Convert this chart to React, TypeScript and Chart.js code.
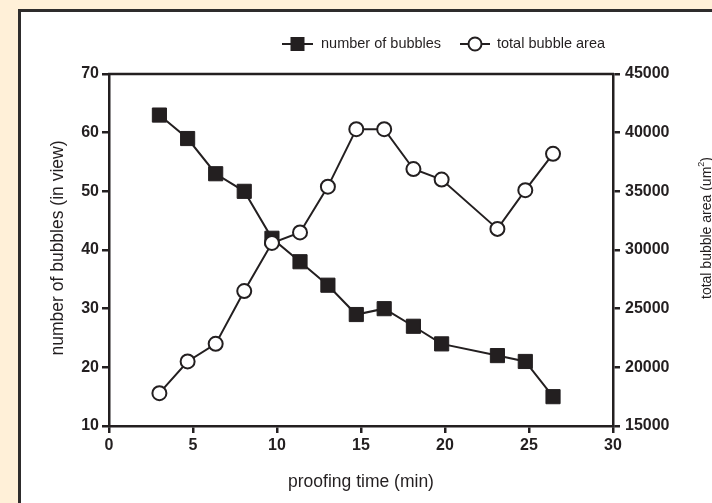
import React, { useEffect, useRef } from 'react';
import { Chart, registerables } from 'chart.js';

Chart.register(...registerables);

const proofingTime = [3, 4.68, 6.35, 8.05, 9.7, 11.37, 13.03, 14.72, 16.38, 18.12, 19.8, 23.12, 24.78, 26.43];
const bubbleCount = [63, 59, 53, 50, 42, 38, 34, 29, 30, 27, 24, 22, 21, 15];
const bubbleArea = [17800, 20500, 22000, 26500, 30600, 31500, 35400, 40300, 40300, 36900, 36000, 31800, 35100, 38200];

const xTitle = 'proofing time (min)';
const yTitle = 'number of bubbles (in view)';
const y1TitleMain = 'total bubble area (um';
const y1TitleSup = '2';
const y1TitleEnd = ')';
const legendCount = 'number of bubbles';
const legendArea = 'total bubble area';

const DARK = '#231f20';
const FONT = '"Liberation Sans", Arial, Helvetica, sans-serif';

const decorPlugin = {
  id: 'decor',
  afterDraw(chart: any) {
    const ctx = chart.ctx as CanvasRenderingContext2D;
    const { left, right, top } = chart.chartArea;
    ctx.save();
    // top frame line
    ctx.strokeStyle = DARK;
    ctx.lineWidth = 2.5;
    ctx.beginPath();
    ctx.moveTo(left - 1, top);
    ctx.lineTo(right + 1, top);
    ctx.stroke();

    ctx.fillStyle = DARK;
    ctx.textBaseline = 'middle';

    // x title
    ctx.font = `17.5px ${FONT}`;
    ctx.textAlign = 'center';
    ctx.fillText(xTitle, (left + right) / 2, 482);

    // left y title
    ctx.save();
    ctx.translate(58, 248);
    ctx.rotate(-Math.PI / 2);
    ctx.fillText(yTitle, 0, 0);
    ctx.restore();

    // right y title with superscript
    ctx.save();
    ctx.translate(707, 228);
    ctx.rotate(-Math.PI / 2);
    ctx.textAlign = 'left';
    ctx.font = `14px ${FONT}`;
    const w1 = ctx.measureText(y1TitleMain).width;
    const w3 = ctx.measureText(y1TitleEnd).width;
    ctx.font = `9px ${FONT}`;
    const w2 = ctx.measureText(y1TitleSup).width;
    const start = -(w1 + w2 + w3) / 2;
    ctx.font = `14px ${FONT}`;
    ctx.fillText(y1TitleMain, start, 0);
    ctx.fillText(y1TitleEnd, start + w1 + w2, 0);
    ctx.font = `9px ${FONT}`;
    ctx.fillText(y1TitleSup, start + w1, -5);
    ctx.restore();

    // legend
    const ly = 44;
    ctx.lineWidth = 2;
    ctx.strokeStyle = DARK;
    ctx.beginPath();
    ctx.moveTo(282, ly);
    ctx.lineTo(313, ly);
    ctx.stroke();
    ctx.fillStyle = DARK;
    ctx.fillRect(297.5 - 7, ly - 7, 14, 14);
    ctx.font = `14.5px ${FONT}`;
    ctx.textAlign = 'left';
    ctx.fillText(legendCount, 321, ly);

    ctx.beginPath();
    ctx.moveTo(460, ly);
    ctx.lineTo(490, ly);
    ctx.stroke();
    ctx.beginPath();
    ctx.arc(475, ly, 6.5, 0, Math.PI * 2);
    ctx.fillStyle = '#ffffff';
    ctx.fill();
    ctx.stroke();
    ctx.fillStyle = DARK;
    ctx.fillText(legendArea, 497, ly);

    ctx.restore();
  },
};

export default function App() {
  const canvasRef = useRef<HTMLCanvasElement | null>(null);

  useEffect(() => {
    if (!canvasRef.current) return;
    const tickFont = { family: FONT, size: 16, weight: 'bold' as const };
    const plain = (v: any) => String(v);
    const chart = new Chart(canvasRef.current, {
      type: 'line',
      data: {
        datasets: [
          {
            label: legendArea,
            data: proofingTime.map((t, i) => ({ x: t, y: bubbleArea[i] })),
            yAxisID: 'y1',
            borderColor: DARK,
            borderWidth: 2,
            pointStyle: 'circle',
            pointRadius: 7,
            pointBackgroundColor: '#ffffff',
            pointBorderColor: DARK,
            pointBorderWidth: 2,
            order: 0,
            clip: false as any,
          },
          {
            label: legendCount,
            data: proofingTime.map((t, i) => ({ x: t, y: bubbleCount[i] })),
            yAxisID: 'y',
            borderColor: DARK,
            borderWidth: 2,
            pointStyle: 'rect',
            pointRadius: 10,
            pointBackgroundColor: DARK,
            pointBorderColor: DARK,
            pointBorderWidth: 1,
            order: 1,
            clip: false as any,
          },
        ],
      },
      options: {
        animation: false,
        responsive: false,
        devicePixelRatio: 1,
        layout: { padding: { top: 74, left: 0, right: 0, bottom: 0 } },
        plugins: {
          legend: { display: false },
          tooltip: { enabled: false },
        },
        scales: {
          x: {
            type: 'linear',
            position: 'bottom',
            min: 0,
            max: 30,
            ticks: { stepSize: 5, font: tickFont, color: DARK, padding: 3, callback: plain },
            grid: { drawOnChartArea: false, drawTicks: true, tickLength: 7, color: DARK, lineWidth: 2.5 },
            border: { display: true, color: DARK, width: 2.5 },
            afterFit: (scale: any) => { scale.height = 77; },
          },
          y: {
            type: 'linear',
            position: 'left',
            min: 10,
            max: 70,
            ticks: { stepSize: 10, font: tickFont, color: DARK, padding: 3, callback: plain },
            grid: { drawOnChartArea: false, drawTicks: true, tickLength: 7, color: DARK, lineWidth: 2.5 },
            border: { display: true, color: DARK, width: 2.5 },
            afterFit: (scale: any) => { scale.width = 109; },
          },
          y1: {
            type: 'linear',
            position: 'right',
            min: 15000,
            max: 45000,
            ticks: { stepSize: 5000, font: tickFont, color: DARK, padding: 5, callback: plain },
            grid: { drawOnChartArea: false, drawTicks: true, tickLength: 7, color: DARK, lineWidth: 2.5 },
            border: { display: true, color: DARK, width: 2.5 },
            afterFit: (scale: any) => { scale.width = 99; },
          },
        },
      },
      plugins: [decorPlugin],
    });
    return () => chart.destroy();
  }, []);

  return (
    <div style={{ position: 'fixed', left: 0, top: 0, width: 712, height: 503, background: '#FFF0D8', overflow: 'hidden' }}>
      <div
        style={{
          position: 'absolute',
          left: 18,
          top: 9,
          width: 740,
          height: 540,
          background: '#ffffff',
          border: '3px solid #2e2c2c',
          boxSizing: 'border-box',
        }}
      />
      <canvas ref={canvasRef} width={712} height={503} style={{ position: 'absolute', left: 0, top: 0, width: 712, height: 503 }} />
    </div>
  );
}
